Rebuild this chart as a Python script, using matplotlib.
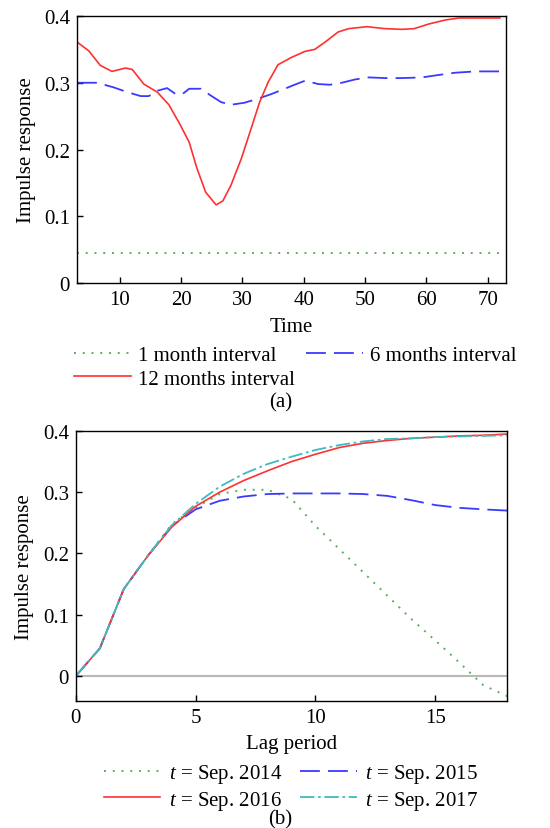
import matplotlib
matplotlib.use("Agg")
import matplotlib.pyplot as plt

plt.rcParams['font.family'] = ['Liberation Serif', 'DejaVu Serif']
plt.rcParams['mathtext.fontset'] = 'custom'
plt.rcParams['mathtext.rm'] = 'Liberation Serif'
plt.rcParams['mathtext.it'] = 'Liberation Serif:italic'
plt.rcParams['font.size'] = 15

# panel (a): impulse response over time
time_1m = [3, 72]
resp_1m = [0.045, 0.045]

time_6m = [3, 6.3, 9, 11.2, 13.4, 14.7, 16.1, 17.7, 19.1, 20.2, 21.3, 23.2, 24.8,
           26.5, 28.1, 30.3, 32.5, 34.7, 36.9, 38.5, 40.2, 42.4, 44.3, 46.2, 48.4,
           50.6, 53.3, 56, 59.3, 61.5, 64.7, 68, 72]
resp_6m = [0.300, 0.300, 0.293, 0.286, 0.280, 0.280, 0.288, 0.292, 0.283, 0.283,
           0.291, 0.291, 0.281, 0.271, 0.267, 0.270, 0.276, 0.283, 0.291, 0.297,
           0.303, 0.298, 0.297, 0.300, 0.305, 0.308, 0.307, 0.307, 0.308, 0.311,
           0.315, 0.317, 0.317]

time_12m = [3, 4.9, 6.8, 8.7, 10.9, 12, 13.9, 16.1, 18, 19.9, 21.3, 22.6, 24, 25.7,
            26.8, 28.1, 29.8, 31.4, 32.8, 34.2, 35.8, 38, 40.2, 41.8, 43.5, 45.6,
            47.3, 50.3, 53.3, 56, 58, 60.4, 63.1, 65.3, 72]
resp_12m = [0.361, 0.348, 0.326, 0.317, 0.322, 0.320, 0.298, 0.286, 0.267, 0.236,
            0.211, 0.171, 0.136, 0.117, 0.123, 0.146, 0.186, 0.231, 0.271, 0.301,
            0.327, 0.338, 0.347, 0.350, 0.361, 0.376, 0.381, 0.384, 0.381, 0.380,
            0.381, 0.388, 0.394, 0.397, 0.397]

# panel (b): impulse response over lag period
lags = list(range(19))
resp_2014 = [0, 0.045, 0.142, 0.196, 0.248, 0.275, 0.297, 0.304, 0.304, 0.289,
             0.245, 0.207, 0.169, 0.131, 0.093, 0.058, 0.022, -0.015, -0.033]
resp_2015 = [0, 0.045, 0.142, 0.196, 0.245, 0.272, 0.286, 0.293, 0.297, 0.298,
             0.298, 0.298, 0.297, 0.294, 0.287, 0.279, 0.2745, 0.272, 0.270]
resp_2016 = [0, 0.045, 0.142, 0.196, 0.243, 0.277, 0.300, 0.319, 0.335, 0.350,
             0.362, 0.373, 0.380, 0.3845, 0.388, 0.390, 0.392, 0.393, 0.395]
resp_2017 = [0, 0.045, 0.142, 0.196, 0.246, 0.281, 0.309, 0.330, 0.346, 0.358,
             0.369, 0.377, 0.383, 0.387, 0.388, 0.390, 0.391, 0.392, 0.393]

green = '#5aaf5a'
blue = '#3a3aff'
red = '#ff3030'
cyan = '#3cbcc0'

fig = plt.figure(figsize=(5.5, 8.29), dpi=100)
ax1 = fig.add_axes([0.140, 0.6574, 0.780, 0.3221])
ax2 = fig.add_axes([0.138, 0.1532, 0.784, 0.3257])

for ax in (ax1, ax2):
    ax.tick_params(direction='in', length=4, width=1, labelsize=15, pad=5)
    for s in ax.spines.values():
        s.set_linewidth(1)

ax1.plot(time_1m, resp_1m, color=green, lw=1.4, linestyle=(0, (1, 3.5)), label='1 month interval')
ax1.plot(time_6m, resp_6m, color=blue, lw=1.3, linestyle=(0, (11, 4.5)), label='6 months interval')
ax1.plot(time_12m, resp_12m, color=red, lw=1.2, label='12 months interval')
ax1.set_xlim(3, 73)
ax1.set_ylim(0, 0.4)
ax1.set_xticks([10, 20, 30, 40, 50, 60, 70])
ax1.set_yticks([0, 0.1, 0.2, 0.3, 0.4])
ax1.set_yticklabels(['0', '0.1', '0.2', '0.3', '0.4'])
ax1.set_xlabel('Time', labelpad=6)
ax1.set_ylabel('Impulse response', labelpad=6)

ax2.axhline(0, color='#b8b8b8', lw=1.5, zorder=1)
ax2.plot(lags, resp_2014, color=green, lw=1.4, linestyle=(0, (1, 3.5)), label='$t$ = Sep. 2014')
ax2.plot(lags, resp_2015, color=blue, lw=1.3, linestyle=(0, (11, 4.5)), label='$t$ = Sep. 2015')
ax2.plot(lags, resp_2016, color=red, lw=1.2, label='$t$ = Sep. 2016')
ax2.plot(lags, resp_2017, color=cyan, lw=1.3, linestyle=(0, (8, 2, 1.5, 2)), label='$t$ = Sep. 2017')
ax2.set_xlim(0, 18)
ax2.set_ylim(-0.041, 0.4)
ax2.set_xticks([0, 5, 10, 15])
ax2.set_yticks([0, 0.1, 0.2, 0.3, 0.4])
ax2.set_yticklabels(['0', '0.1', '0.2', '0.3', '0.4'])
ax2.set_xlabel('Lag period', labelpad=5)
ax2.set_ylabel('Impulse response', labelpad=6)

# legend rows: matplotlib fills columns first, so reorder
h1, l1 = ax1.get_legend_handles_labels()
order1 = [0, 2, 1]
fig.legend([h1[i] for i in order1], [l1[i] for i in order1], ncol=2, frameon=False,
           loc='center', bbox_to_anchor=(0.537, 1 - 368 / 829),
           fontsize=15, handlelength=2.7, columnspacing=0.55, handletextpad=0.35,
           labelspacing=0.2, borderpad=0.2)
fig.text(0.51, 1 - 403 / 829, '(a)', ha='center', va='center', fontsize=15)

h2, l2 = ax2.get_legend_handles_labels()
order2 = [0, 2, 1, 3]
fig.legend([h2[i] for i in order2], [l2[i] for i in order2], ncol=2, frameon=False,
           loc='center', bbox_to_anchor=(0.529, 1 - 788 / 829),
           fontsize=15, handlelength=2.7, columnspacing=0.9, handletextpad=0.4,
           labelspacing=0.15, borderpad=0.2)
fig.text(0.51, 1 - 820 / 829, '(b)', ha='center', va='center', fontsize=15)

fig.savefig('out.png', dpi=100)
